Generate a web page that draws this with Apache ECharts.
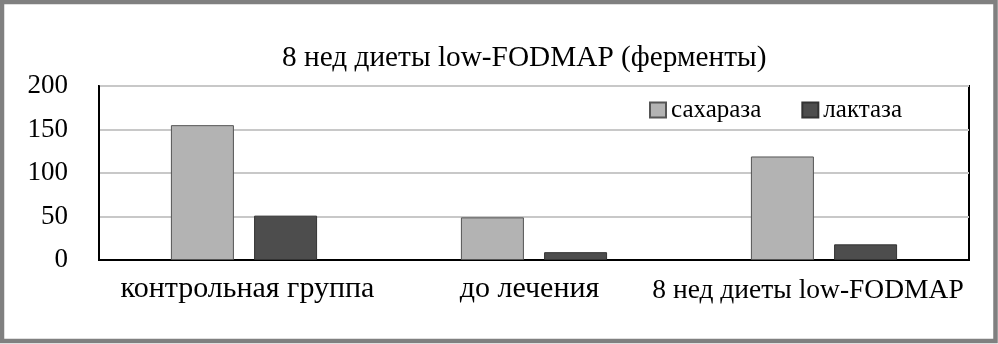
<!DOCTYPE html>
<html>
<head>
<meta charset="utf-8">
<script src="https://cdn.jsdelivr.net/npm/echarts@6/dist/echarts.min.js"></script>
<style>
html,body{margin:0;padding:0;background:#fff;}
#c{width:998px;height:344px;}
</style>
</head>
<body>
<div id="c"></div>
<script>
const titleText = '8 нед диеты low-FODMAP (ферменты)';
const categories = ['контрольная группа', 'до лечения', '8 нед диеты low-FODMAP'];
const seriesNames = ['сахараза', 'лактаза'];
const sucrase = [155, 49, 119];
const lactase = [51, 9, 18];
const yTicks = [0, 50, 100, 150, 200];

const FONT = '"Liberation Serif", "Times New Roman", serif';
const labelStyles = [
  {padding: [0, 0, 0, 7]},
  {padding: [0, 9, 0, 0]},
  {padding: [3, 32, 0, 0], fontSize: 27.5}
];
const chart = echarts.init(document.getElementById('c'), null, {renderer: 'canvas'});
chart.setOption({
  animation: false,
  backgroundColor: '#fff',
  graphic: [{
    type: 'rect', silent: true, z: 100,
    shape: {x: 2, y: 2, width: 993.5, height: 339},
    style: {fill: 'none', stroke: '#808080', lineWidth: 4.5}
  }],
  title: {
    text: titleText, left: 282, top: 44, padding: 0,
    textStyle: {fontFamily: FONT, fontSize: 29.3, fontWeight: 'normal', color: '#000'}
  },
  legend: {
    data: seriesNames, left: 649, top: 97.5, padding: 0, itemWidth: 16, itemHeight: 15, itemGap: 40,
    icon: 'rect',
    textStyle: {fontFamily: FONT, fontSize: 25, color: '#000'}
  },
  grid: {left: 99, top: 86, width: 870, height: 174, show: true, borderColor: '#000', borderWidth: 2, backgroundColor: 'transparent'},
  xAxis: {
    type: 'category',
    data: categories.map((c, i) => ({value: c, textStyle: labelStyles[i]})),
    axisLine: {show: true, lineStyle: {color: '#000', width: 2}},
    axisTick: {show: false},
    axisLabel: {fontFamily: FONT, fontSize: 30, color: '#000', margin: 14, interval: 0}
  },
  yAxis: {
    type: 'value', min: 0, max: 200, interval: 50,
    axisLine: {show: true, lineStyle: {color: '#000', width: 2}},
    axisTick: {show: false},
    splitLine: {lineStyle: {color: '#c8c8c8', width: 2}},
    axisLabel: {fontFamily: FONT, fontSize: 27, color: '#000', margin: 31,
      formatter: v => yTicks.includes(v) ? String(v) : ''}
  },
  series: [
    {name: seriesNames[0], type: 'bar', data: sucrase, barWidth: 63, barGap: '32%',
      itemStyle: {color: '#b3b3b3', borderColor: '#555', borderWidth: 1}},
    {name: seriesNames[1], type: 'bar', data: lactase, barWidth: 63,
      itemStyle: {color: '#4d4d4d', borderColor: '#333', borderWidth: 1}}
  ]
});
</script>
</body>
</html>
